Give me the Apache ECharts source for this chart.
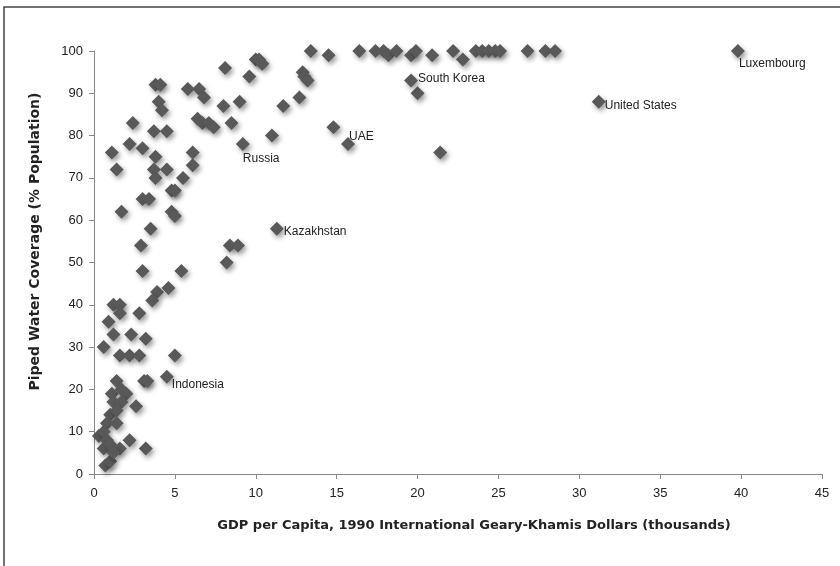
<!doctype html>
<html>
<head>
<meta charset='utf-8'>
<title>Piped water vs GDP</title>
<style>
html, body { margin: 0; padding: 0; background: #fff; }
#chart { width: 840px; height: 566px; }
</style>
</head>
<body>
<div id="chart"></div>
<script src="https://cdn.jsdelivr.net/npm/echarts@6/dist/echarts.min.js"></script>
<script>
// unlabeled countries: GDP per capita (thousands) and piped water coverage (%)
const gdp = [1.1, 1.4, 2.4, 2.2, 3.0, 3.8, 4.1, 4.0, 4.2, 3.7, 4.5, 3.8, 3.7, 3.8, 4.5, 5.5, 4.8, 5.0,
    6.1, 6.1, 5.8, 6.5, 6.8, 6.4, 6.7, 7.1, 7.4, 8.1, 8.0, 8.5, 9.0, 9.6, 10.0, 10.2, 10.4, 11.0,
    11.7, 12.7, 12.9, 13.0, 13.2, 13.4, 14.5, 14.8, 16.4, 17.4, 17.9, 18.2, 18.7, 19.6, 19.9, 20.9,
    22.2, 22.8, 23.6, 24.0, 24.4, 24.8, 25.1, 26.8, 27.9, 28.5, 20.0, 21.4,
    3.0, 3.4, 1.7, 4.8, 5.0, 3.5, 2.9, 3.0, 5.4, 3.9, 3.6, 4.6, 1.2, 1.6, 1.6, 2.8, 0.9, 1.2, 2.3,
    3.2, 0.6, 1.6, 2.2, 2.8, 5.0, 1.4, 3.1, 3.3, 8.2, 8.4, 8.9,
    1.1, 1.7, 2.0, 1.2, 1.7, 2.6, 1.0, 1.4, 0.8, 1.4, 0.3, 0.6, 0.8, 2.2, 0.6, 1.0, 1.6, 3.2,
    0.7, 1.0, 1.2];
const coverage = [76, 72, 83, 78, 77, 92, 92, 88, 86, 81, 81, 75, 72, 70, 72, 70, 67, 67,
    76, 73, 91, 91, 89, 84, 83, 83, 82, 96, 87, 83, 88, 94, 98, 98, 97, 80,
    87, 89, 95, 94, 93, 100, 99, 82, 100, 100, 100, 99, 100, 99, 100, 99,
    100, 98, 100, 100, 100, 100, 100, 100, 100, 100, 90, 76,
    65, 65, 62, 62, 61, 58, 54, 48, 48, 43, 41, 44, 40, 40, 38, 38, 36, 33, 33,
    32, 30, 28, 28, 28, 28, 22, 22, 22, 50, 54, 54,
    19, 20, 19, 17, 17, 16, 14, 15, 12, 12, 9, 10, 8, 8, 6, 7, 6, 6,
    2, 3, 5];

// labeled countries
const labelNames = ['Russia', 'UAE', 'South Korea', 'Luxembourg', 'United States', 'Kazakhstan', 'Indonesia'];
const labelGdp = [9.2, 15.7, 19.6, 39.8, 31.2, 11.3, 4.5];
const labelCoverage = [78, 78, 93, 100, 88, 58, 23];

const xTicks = [0, 5, 10, 15, 20, 25, 30, 35, 40, 45];
const yTicks = [0, 10, 20, 30, 40, 50, 60, 70, 80, 90, 100];

// label offsets relative to the symbol box
const labelPos = {
    'Russia': [7, 22],
    'UAE': [8, 0],
    'South Korea': [14, 5],
    'Luxembourg': [8, 20],
    'United States': [13, 11],
    'Kazakhstan': [14, 10],
    'Indonesia': [12, 15]
};

const pts = gdp.map((g, i) => [g, coverage[i]]);
labelNames.forEach((n, i) => {
    pts.push({
        value: [labelGdp[i], labelCoverage[i]],
        label: {
            show: true,
            formatter: n,
            position: labelPos[n],
            align: 'left',
            verticalAlign: 'middle',
            fontSize: 12,
            color: '#222',
            fontFamily: 'Liberation Sans'
        }
    });
});

const chart = echarts.init(document.getElementById('chart'));
chart.setOption({
    animation: false,
    graphic: [{
        type: 'rect',
        shape: { x: 4, y: 7, width: 900, height: 700 },
        style: { fill: 'none', stroke: '#444', lineWidth: 1.5 },
        silent: true
    }],
    grid: { left: 94, right: 18, top: 51, bottom: 92 },
    xAxis: {
        type: 'value',
        min: xTicks[0],
        max: xTicks[xTicks.length - 1],
        interval: 5,
        splitLine: { show: false },
        axisLine: { lineStyle: { color: '#888' } },
        axisTick: { show: true, inside: false, length: 5, lineStyle: { color: '#888' } },
        axisLabel: { color: '#222', fontSize: 13, margin: 13, fontFamily: 'Liberation Sans' },
        name: 'GDP per Capita, 1990 International Geary-Khamis Dollars (thousands)',
        nameLocation: 'middle',
        nameGap: 45,
        nameTextStyle: { fontWeight: 'bold', fontSize: 13, color: '#222', fontFamily: 'DejaVu Sans', padding: [0, 0, 0, 32] }
    },
    yAxis: {
        type: 'value',
        min: yTicks[0],
        max: yTicks[yTicks.length - 1],
        interval: 10,
        splitLine: { show: false },
        axisLine: { show: true, lineStyle: { color: '#888' } },
        axisTick: { show: true, inside: false, length: 5, lineStyle: { color: '#888' } },
        axisLabel: { color: '#222', fontSize: 13, margin: 11, fontFamily: 'Liberation Sans' },
        name: 'Piped Water Coverage (% Population)',
        nameLocation: 'middle',
        nameGap: 52,
        nameTextStyle: { fontWeight: 'bold', fontSize: 14, color: '#222', fontFamily: 'DejaVu Sans', padding: [0, 0, 0, 42] }
    },
    series: [{
        type: 'scatter',
        symbol: 'diamond',
        symbolSize: 14,
        data: pts,
        itemStyle: {
            color: '#595959',
            opacity: 1,
            shadowBlur: 5,
            shadowOffsetX: 2,
            shadowOffsetY: 3,
            shadowColor: 'rgba(0,0,0,0.4)'
        }
    }]
});
</script>
</body>
</html>
